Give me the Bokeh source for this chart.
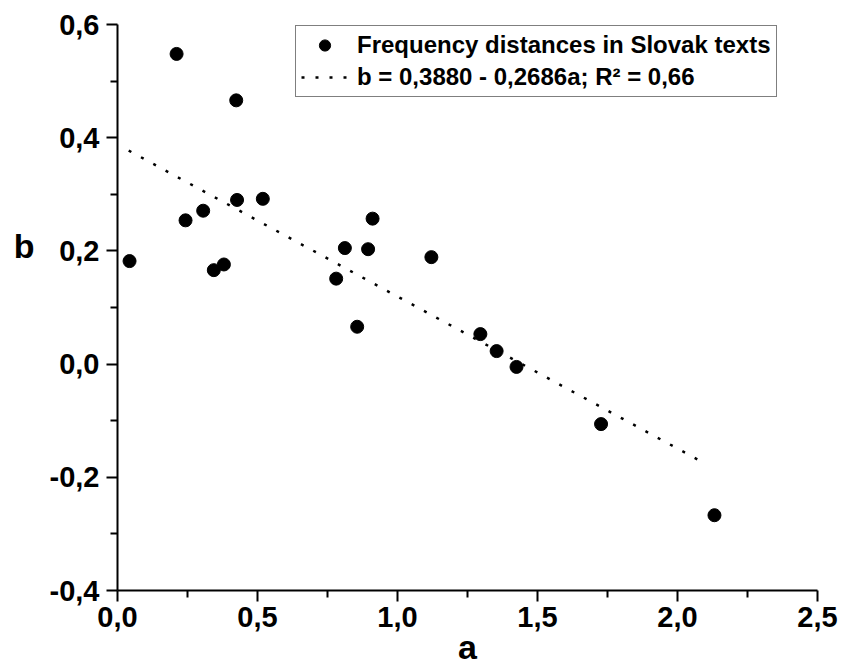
from bokeh.plotting import figure
from bokeh.models import (FixedTicker, CustomJSTickFormatter, Legend, LegendItem,
                          LinearAxis, ColumnDataSource)
from bokeh.embed import file_html
from bokeh.resources import INLINE

# ---- data ----
a_vals = [0.043, 0.211, 0.243, 0.306, 0.344, 0.380, 0.424, 0.427, 0.519, 0.781,
          0.812, 0.856, 0.895, 0.911, 1.121, 1.296, 1.354, 1.425, 1.727, 2.132]
b_vals = [0.182, 0.548, 0.254, 0.271, 0.166, 0.176, 0.466, 0.290, 0.292, 0.151,
          0.205, 0.066, 0.203, 0.257, 0.189, 0.053, 0.023, -0.005, -0.106, -0.267]

fit_intercept = 0.3880
fit_slope = -0.2686
fit_a = [0.04, 2.10]
fit_b = [fit_intercept + fit_slope * x for x in fit_a]

x_ticks = [0.0, 0.5, 1.0, 1.5, 2.0, 2.5]
x_minor = [0.25, 0.75, 1.25, 1.75, 2.25]
y_ticks = [-0.4, -0.2, 0.0, 0.2, 0.4, 0.6]
y_minor = [-0.3, -0.1, 0.1, 0.3, 0.5]

series_label = "Frequency distances in Slovak texts"
fit_label = "b = 0,3880 - 0,2686a; R\u00b2 = 0,66"
x_title = "a"
y_title = "b"

FONT = "Liberation Sans"

p = figure(width=841, height=668, x_range=(0, 2.5), y_range=(-0.4, 0.6),
           output_backend="svg", toolbar_location=None,
           min_border_left=117, min_border_right=24, min_border_top=24,
           min_border_bottom=77)
p.outline_line_color = None
p.xgrid.visible = False
p.ygrid.visible = False
p.background_fill_color = "white"
p.border_fill_color = "white"

src = ColumnDataSource(dict(a=a_vals, b=b_vals))
fit_src = ColumnDataSource(dict(a=fit_a, b=fit_b))

ln = p.line("a", "b", source=fit_src, line_color="black", line_width=2.5,
            line_dash="3 11")
sc = p.scatter("a", "b", source=src, size=13, fill_color="black",
               line_color="black")

fmt = CustomJSTickFormatter(code="return tick.toFixed(1).replace('.', ',');")
p.xaxis.ticker = FixedTicker(ticks=x_ticks, minor_ticks=x_minor)
p.yaxis.ticker = FixedTicker(ticks=y_ticks, minor_ticks=y_minor)
for ax in (p.xaxis, p.yaxis):
    ax.formatter = fmt
    ax.axis_line_width = 2
    ax.axis_line_color = "black"
    ax.major_tick_line_width = 2
    ax.minor_tick_line_width = 2
    ax.major_tick_out = 11
    ax.major_tick_in = 0
    ax.minor_tick_out = 7
    ax.minor_tick_in = 0
    ax.major_label_text_font = FONT
    ax.major_label_text_font_size = "29px"
    ax.major_label_text_font_style = "bold"
    ax.major_label_text_color = "black"
p.xaxis.major_label_standoff = 5
p.yaxis.major_label_standoff = 7

# x title as the axis label
p.xaxis.axis_label = x_title
p.xaxis.axis_label_text_font = FONT
p.xaxis.axis_label_text_font_size = "34px"
p.xaxis.axis_label_text_font_style = "bold"
p.xaxis.axis_label_text_color = "black"
p.xaxis.axis_label_standoff = -2

# y title: horizontal text beside the 0,2 tick label, drawn as a bare extra axis
y_title_at = [0.209]
title_axis = LinearAxis(ticker=FixedTicker(ticks=y_title_at, minor_ticks=[]),
                        formatter=CustomJSTickFormatter(code="return '%s';" % y_title))
title_axis.axis_line_color = None
title_axis.major_tick_line_color = None
title_axis.minor_tick_line_color = None
title_axis.major_tick_out = 0
title_axis.major_tick_in = 0
title_axis.minor_tick_out = 0
title_axis.major_label_standoff = 12
title_axis.major_label_text_font = FONT
title_axis.major_label_text_font_size = "34px"
title_axis.major_label_text_font_style = "bold"
title_axis.major_label_text_color = "black"
p.add_layout(title_axis, "left")

legend = Legend(items=[LegendItem(label=series_label, renderers=[sc]),
                       LegendItem(label=fit_label, renderers=[ln])],
                location=(178, 493))
legend.label_text_font = FONT
legend.label_text_font_size = "24px"
legend.label_text_font_style = "bold"
legend.label_text_color = "black"
legend.glyph_width = 47
legend.glyph_height = 28
legend.label_height = 28
legend.label_standoff = 9
legend.padding = 5
legend.spacing = 4
legend.margin = 0
legend.border_line_color = "black"
legend.border_line_width = 1.5
legend.background_fill_alpha = 1.0
p.add_layout(legend)

open("out.html", "w").write(file_html(p, INLINE))
